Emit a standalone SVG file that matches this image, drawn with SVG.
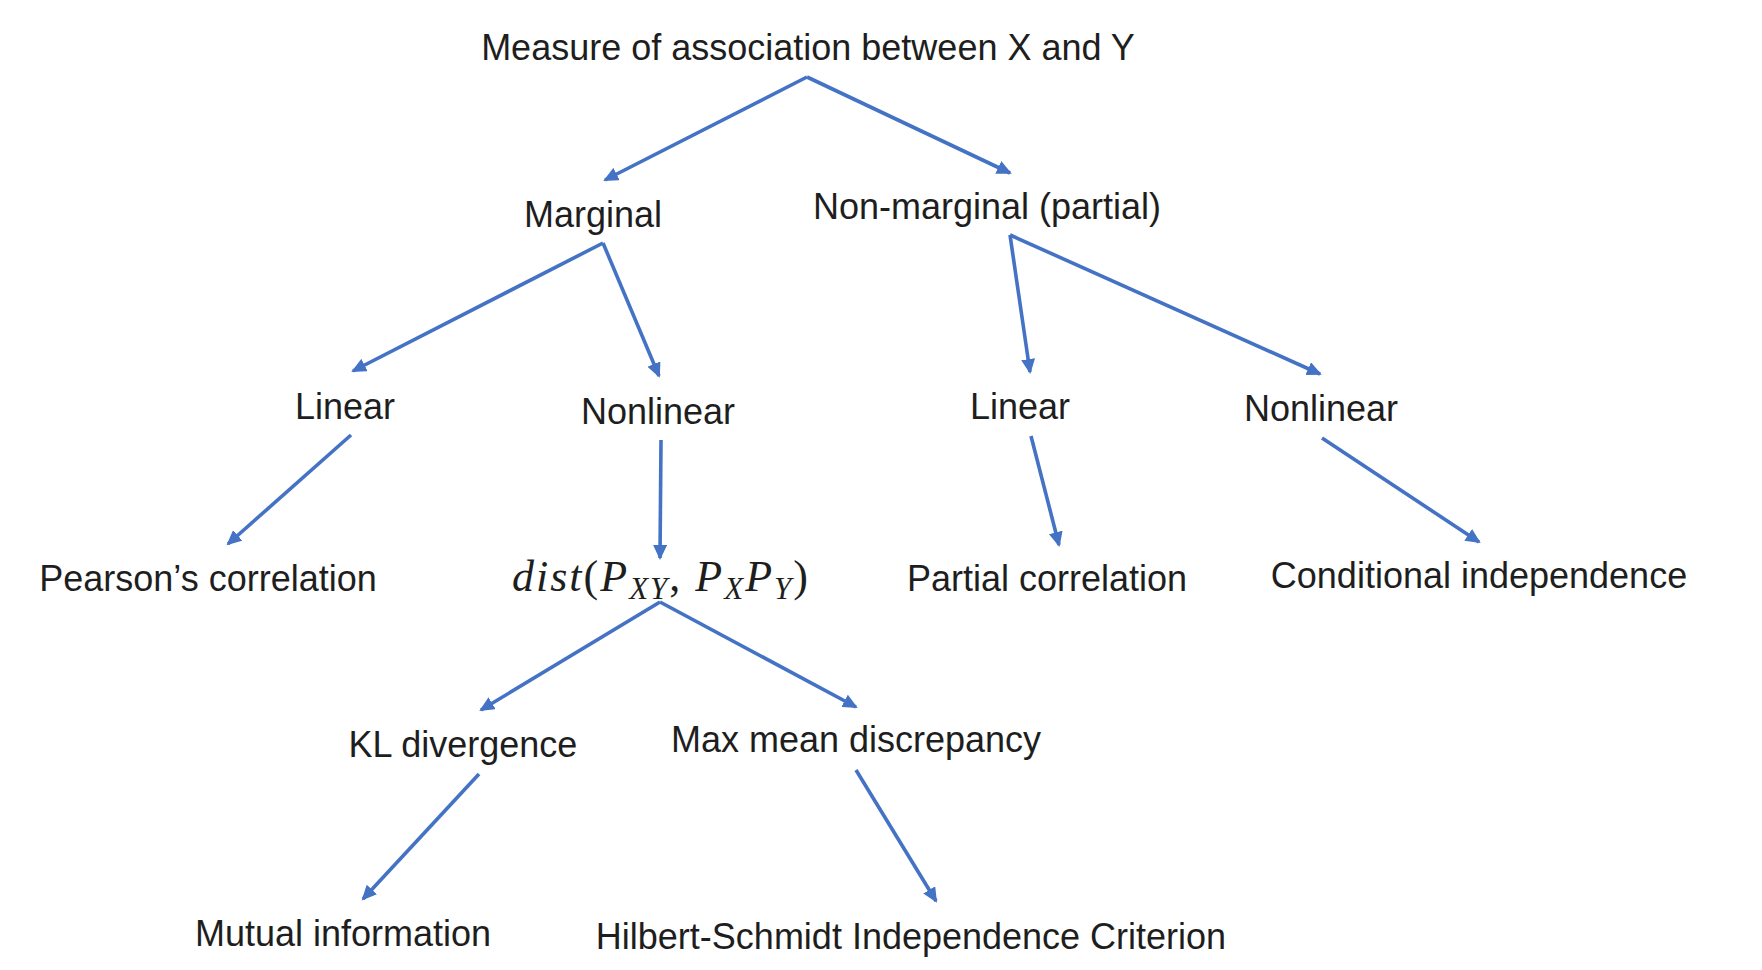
<svg xmlns="http://www.w3.org/2000/svg" width="1762" height="970" viewBox="0 0 1762 970">
<style>
.t{font-family:"Liberation Sans",Arial,sans-serif;font-size:36px;fill:#1e1e1e;text-anchor:middle}
.m{font-family:"Liberation Serif","Times New Roman",serif;font-size:44px;fill:#1e1e1e;text-anchor:middle}
.i{font-style:italic}
.c{stroke:#4472C4;stroke-width:3.6;fill:none;marker-end:url(#ah)}
</style>
<defs>
<marker id="ah" markerUnits="userSpaceOnUse" markerWidth="16" markerHeight="14" refX="13" refY="7" orient="auto" viewBox="0 0 16 14">
<path d="M0,0 L15,7 L0,14 z" fill="#4472C4"/>
</marker>
</defs>
<rect width="1762" height="970" fill="#ffffff"/>
<g id="connectors">
<line class="c" x1="807" y1="77" x2="605" y2="180"/>
<line class="c" x1="807" y1="77" x2="1010" y2="173"/>
<line class="c" x1="603" y1="243" x2="353" y2="371"/>
<line class="c" x1="603" y1="243" x2="659" y2="376"/>
<line class="c" x1="1010" y1="235" x2="1030" y2="372"/>
<line class="c" x1="1010" y1="235" x2="1320" y2="374"/>
<line class="c" x1="351" y1="435" x2="228" y2="544"/>
<line class="c" x1="661" y1="440" x2="660" y2="558"/>
<line class="c" x1="1031" y1="436" x2="1059" y2="545"/>
<line class="c" x1="1322" y1="438" x2="1479" y2="542"/>
<line class="c" x1="660" y1="602" x2="481" y2="710"/>
<line class="c" x1="660" y1="602" x2="856" y2="707"/>
<line class="c" x1="479" y1="774" x2="363" y2="899"/>
<line class="c" x1="856" y1="770" x2="936" y2="901"/>
</g>
<g id="root"><text class="t" x="808" y="60">Measure of association between X and Y</text></g>
<g id="marginal"><text class="t" x="593" y="227">Marginal</text></g>
<g id="nonmarginal"><text class="t" x="987" y="219">Non-marginal (partial)</text></g>
<g id="linear-left"><text class="t" x="345" y="419">Linear</text></g>
<g id="nonlinear-left"><text class="t" x="658" y="424">Nonlinear</text></g>
<g id="linear-right"><text class="t" x="1020" y="419">Linear</text></g>
<g id="nonlinear-right"><text class="t" x="1321" y="421">Nonlinear</text></g>
<g id="pearson"><text class="t" x="208" y="591">Pearson’s correlation</text></g>
<g id="dist"><text class="m" x="660" y="591" textLength="296" lengthAdjust="spacing"><tspan class="i">dist</tspan>(<tspan class="i">P</tspan><tspan class="i" font-size="31" dy="8">XY</tspan><tspan dy="-8">, </tspan><tspan class="i">P</tspan><tspan class="i" font-size="31" dy="8">X</tspan><tspan class="i" dy="-8">P</tspan><tspan class="i" font-size="31" dy="8">Y</tspan><tspan dy="-8">)</tspan></text></g>
<g id="partial-corr"><text class="t" x="1047" y="591">Partial correlation</text></g>
<g id="cond-indep"><text class="t" x="1479" y="588">Conditional independence</text></g>
<g id="kl"><text class="t" x="463" y="757">KL divergence</text></g>
<g id="mmd"><text class="t" x="856" y="752">Max mean discrepancy</text></g>
<g id="mi"><text class="t" x="343" y="946">Mutual information</text></g>
<g id="hsic"><text class="t" x="911" y="949">Hilbert-Schmidt Independence Criterion</text></g>
</svg>
